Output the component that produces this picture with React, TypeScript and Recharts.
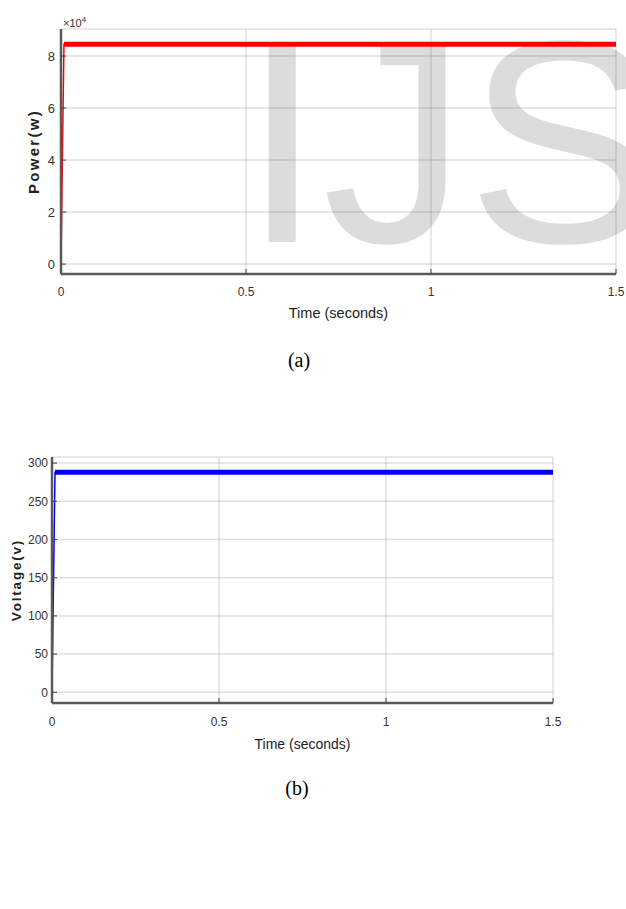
import React from 'react';
import { LineChart, Line, XAxis, YAxis, CartesianGrid, Label } from 'recharts';

// ---- data ----
const timeTicks = [0, 0.5, 1, 1.5];

const powerTime = [0, 0.002, 0.004, 0.006, 0.008, 0.02, 0.5, 1.0, 1.5];
const powerValues = [0, 21000, 43000, 64000, 84500, 84500, 84500, 84500, 84500];
const powerBandStart = 0.008;
const powerTicks = [0, 20000, 40000, 60000, 80000];

const voltageTime = [0, 0.003, 0.006, 0.009, 0.02, 0.5, 1.0, 1.5];
const voltageValues = [0, 96, 192, 288, 288, 288, 288, 288];
const voltageBandStart = 0.009;
const voltageTicks = [0, 50, 100, 150, 200, 250, 300];

const powerData = powerTime.map((t, i) => ({
  t,
  p: powerValues[i],
  band: t >= powerBandStart ? powerValues[i] : null,
}));
const voltageData = voltageTime.map((t, i) => ({
  t,
  v: voltageValues[i],
  band: t >= voltageBandStart ? voltageValues[i] : null,
}));

const FONT = "'Liberation Sans', Arial, Helvetica, sans-serif";
const SERIF = "'Liberation Serif', 'Times New Roman', serif";
const GRID = 'rgba(0,0,0,0.12)';
const AXIS = '#5a5a5a';

const fmtTime = (v: number) => String(v);

const makeYTitle = (text: string, dx: number, size: number, spacing: number) => (props: any) => {
  const vb = props && props.viewBox ? props.viewBox : { x: 0, y: 0, height: 0 };
  const cx = (vb.x || 0) + dx;
  const cy = (vb.y || 0) + (vb.height || 0) / 2;
  return (
    <text
      x={cx}
      y={cy}
      transform={`rotate(-90 ${cx} ${cy})`}
      textAnchor="middle"
      dominantBaseline="central"
      fontFamily={FONT}
      fontWeight="bold"
      fontSize={size}
      letterSpacing={spacing}
      fill="#222"
    >
      {text}
    </text>
  );
};

const tickStyle = { fill: '#333', fontSize: 12, fontFamily: FONT };

function PowerChart() {
  return (
    <LineChart width={626} height={340} data={powerData} margin={{ top: 29, right: 10, left: 0, bottom: 0 }}>
      <CartesianGrid stroke={GRID} strokeWidth={1.5} />
      <XAxis
        dataKey="t"
        type="number"
        domain={[0, 1.5]}
        ticks={timeTicks}
        tickFormatter={fmtTime}
        height={66}
        tickSize={-5}
        tickMargin={18}
        axisLine={{ stroke: AXIS, strokeWidth: 2.5 }}
        tickLine={{ stroke: '#444' }}
        tick={tickStyle}
        interval={0}
      >
        <Label value="Time (seconds)" position="insideTop" offset={34} fill="#222" fontSize={14.5} fontFamily={FONT} />
      </XAxis>
      <XAxis
        xAxisId="top"
        orientation="top"
        dataKey="t"
        type="number"
        domain={[0, 1.5]}
        ticks={timeTicks}
        height={0}
        tick={false}
        tickSize={-5}
        axisLine={{ stroke: AXIS, strokeWidth: 1.5 }}
        tickLine={{ stroke: '#444' }}
      />
      <YAxis
        type="number"
        domain={[-3800, 90400]}
        ticks={powerTicks}
        tickFormatter={(v: number) => String(v / 10000)}
        width={61}
        tickSize={-5}
        tickMargin={11}
        axisLine={{ stroke: AXIS, strokeWidth: 2.5 }}
        tickLine={{ stroke: '#444' }}
        tick={{ ...tickStyle, fontSize: 13 }}
        interval={0}
      >
        <Label content={makeYTitle('Power(w)', 33, 15, 2.3)} />
      </YAxis>
      <YAxis
        yAxisId="right"
        orientation="right"
        type="number"
        domain={[-3800, 90400]}
        ticks={powerTicks}
        width={0}
        tick={false}
        tickSize={-5}
        axisLine={{ stroke: AXIS, strokeWidth: 1.5 }}
        tickLine={{ stroke: '#444' }}
      />
      <Line dataKey="p" stroke="#ff0000" strokeWidth={1.5} dot={false} isAnimationActive={false} />
      <Line dataKey="band" stroke="#ff0000" strokeWidth={5} dot={false} isAnimationActive={false} connectNulls={false} />
    </LineChart>
  );
}

function VoltageChart() {
  return (
    <LineChart width={626} height={340} data={voltageData} margin={{ top: 27, right: 73, left: 0, bottom: 0 }}>
      <CartesianGrid stroke={GRID} strokeWidth={1.5} />
      <XAxis
        dataKey="t"
        type="number"
        domain={[0, 1.5]}
        ticks={timeTicks}
        tickFormatter={fmtTime}
        height={67}
        tickSize={-5}
        tickMargin={19}
        axisLine={{ stroke: AXIS, strokeWidth: 2.5 }}
        tickLine={{ stroke: '#444' }}
        tick={tickStyle}
        interval={0}
      >
        <Label value="Time (seconds)" position="insideTop" offset={36} fill="#222" fontSize={14} fontFamily={FONT} />
      </XAxis>
      <XAxis
        xAxisId="top"
        orientation="top"
        dataKey="t"
        type="number"
        domain={[0, 1.5]}
        ticks={timeTicks}
        height={0}
        tick={false}
        tickSize={-5}
        axisLine={{ stroke: AXIS, strokeWidth: 1.5 }}
        tickLine={{ stroke: '#444' }}
      />
      <YAxis
        type="number"
        domain={[-14, 308]}
        ticks={voltageTicks}
        width={52}
        tickSize={-5}
        tickMargin={9}
        axisLine={{ stroke: AXIS, strokeWidth: 2.5 }}
        tickLine={{ stroke: '#444' }}
        tick={tickStyle}
        interval={0}
      >
        <Label content={makeYTitle('Voltage(v)', 16, 13.5, 1.8)} />
      </YAxis>
      <YAxis
        yAxisId="right"
        orientation="right"
        type="number"
        domain={[-14, 308]}
        ticks={voltageTicks}
        width={0}
        tick={false}
        tickSize={-5}
        axisLine={{ stroke: AXIS, strokeWidth: 1.5 }}
        tickLine={{ stroke: '#444' }}
      />
      <Line dataKey="v" stroke="#0000ff" strokeWidth={1.5} dot={false} isAnimationActive={false} />
      <Line dataKey="band" stroke="#0000ff" strokeWidth={5} dot={false} isAnimationActive={false} connectNulls={false} />
    </LineChart>
  );
}

export default function App() {
  return (
    <div style={{ position: 'absolute', left: 0, top: 0, width: 626, height: 909, background: '#fff', overflow: 'hidden' }}>
      {/* watermark */}
      <svg width={626} height={250} style={{ position: 'absolute', left: 0, top: 0 }}>
        <text x={242} y={242} fontFamily={FONT} fontSize={289} fill="#dcdcdc">
          IJS
        </text>
      </svg>
      <div style={{ position: 'absolute', left: 0, top: 0 }}>
        <PowerChart />
      </div>
      <div style={{ position: 'absolute', left: 63, top: 13, fontFamily: FONT, color: '#333', whiteSpace: 'nowrap' }}>
        <span style={{ fontSize: 11 }}>×10</span>
        <span style={{ fontSize: 8, position: 'relative', top: -5 }}>4</span>
      </div>
      <div style={{ position: 'absolute', left: 249, width: 100, top: 349, textAlign: 'center', fontFamily: SERIF, fontSize: 20, color: '#000' }}>
        (a)
      </div>
      <div style={{ position: 'absolute', left: 0, top: 430 }}>
        <VoltageChart />
      </div>
      <div style={{ position: 'absolute', left: 247, width: 100, top: 777, textAlign: 'center', fontFamily: SERIF, fontSize: 20, color: '#000' }}>
        (b)
      </div>
    </div>
  );
}
